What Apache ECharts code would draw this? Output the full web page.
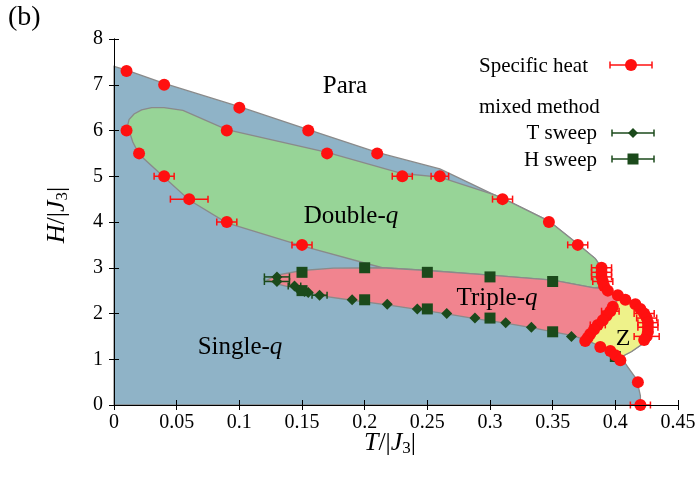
<!DOCTYPE html>
<html><head><meta charset="utf-8">
<script src="https://cdn.jsdelivr.net/npm/echarts@6/dist/echarts.min.js"></script>
<style>html,body{margin:0;padding:0;background:#fff}#c{width:700px;height:478px}</style>
</head><body><div id="c"></div>
<script>
// ---- axes ----
const xMin = 0, xMax = 0.45, xStep = 0.05;
const yMin = 0, yMax = 8, yStep = 1;

// ---- phase boundaries [T, H] ----
const outerBoundary = [[0,0],[0,7.4],[0.01,7.32],[0.04,7.03],[0.1,6.52],[0.155,6.02],[0.21,5.52],[0.26,5.16],[0.283,4.86],[0.303,4.6],[0.31,4.52],[0.347,4.02],[0.37,3.52],[0.384,3.2],[0.389,3.0],[0.39,2.7],[0.395,2.5],[0.403,2.38],[0.416,2.22],[0.423,2.05],[0.427,1.85],[0.428,1.65],[0.426,1.5],[0.421,1.32],[0.413,1.17],[0.406,1.07],[0.407,0.95],[0.41,0.83],[0.416,0.6],[0.418,0.45],[0.42,0.2],[0.42,0]];
const doubleQ = [[0.012,6.0],[0.011,6.12],[0.012,6.24],[0.016,6.36],[0.022,6.45],[0.03,6.5],[0.04,6.5],[0.055,6.44],[0.09,6.02],[0.17,5.52],[0.23,5.06],[0.26,4.98],[0.303,4.6],[0.31,4.52],[0.347,4.02],[0.37,3.52],[0.384,3.2],[0.389,3.0],[0.39,2.7],[0.389,2.58],[0.383,2.56],[0.35,2.73],[0.3,2.84],[0.25,2.94],[0.214,3.0],[0.15,3.48],[0.09,3.98],[0.06,4.48],[0.04,4.98],[0.02,5.48],[0.015,5.75]];
const tripleQ = [[0.122,2.73],[0.13,2.84],[0.15,2.94],[0.175,2.99],[0.214,3.0],[0.25,2.94],[0.3,2.84],[0.35,2.73],[0.383,2.56],[0.39,2.55],[0.396,2.45],[0.403,2.35],[0.398,2.15],[0.393,1.95],[0.386,1.75],[0.38,1.55],[0.377,1.42],[0.365,1.52],[0.333,1.69],[0.3125,1.79],[0.288,1.89],[0.2655,1.99],[0.242,2.09],[0.218,2.19],[0.19,2.29],[0.164,2.39],[0.148,2.52],[0.13,2.65]];
const zPhase = [[0.377,1.42],[0.38,1.55],[0.386,1.75],[0.393,1.95],[0.398,2.15],[0.403,2.35],[0.41,2.3],[0.416,2.22],[0.423,2.05],[0.427,1.85],[0.428,1.65],[0.426,1.5],[0.421,1.32],[0.413,1.17],[0.406,1.07],[0.4,1.1],[0.396,1.18],[0.388,1.28]];

// ---- data [T, H, xerr] ----
const specificHeat = [
 [0.01,7.3,0],[0.04,7.0,0],[0.1,6.5,0],[0.155,6.0,0],[0.21,5.5,0],[0.26,5.0,0.007],[0.31,4.5,0.008],[0.347,4.0,0],[0.37,3.5,0.008],
 [0.01,6.0,0],[0.02,5.5,0],[0.04,5.0,0.008],[0.06,4.5,0.015],[0.09,4.0,0.008],[0.15,3.5,0.008],
 [0.09,6.0,0],[0.17,5.5,0],[0.23,5.0,0.008],
 [0.389,3.0,0.008],[0.389,2.9,0.008],[0.389,2.8,0.008],[0.39,2.7,0.008],[0.391,2.6,0],[0.394,2.5,0],[0.402,2.4,0],[0.408,2.3,0],
 [0.416,2.2,0],[0.42,2.1,0],[0.423,2.0,0.008],[0.425,1.9,0.008],[0.426,1.8,0.008],[0.426,1.7,0.008],[0.426,1.6,0],[0.425,1.5,0.01],[0.423,1.42,0],
 [0.398,2.15,0],[0.396,2.05,0.007],[0.393,1.95,0],[0.39,1.85,0],[0.386,1.75,0.006],[0.383,1.65,0],[0.38,1.55,0],[0.378,1.47,0],[0.376,1.4,0],
 [0.388,1.27,0],[0.396,1.18,0],[0.4,1.09,0],[0.404,0.98,0],
 [0.418,0.5,0],[0.42,0.0,0.008]
];
const tSweep = [[0.13,2.8,0.01],[0.13,2.7,0.01],[0.144,2.6,0.005],[0.148,2.51,0],[0.152,2.48,0],[0.155,2.46,0],[0.164,2.4,0.006],[0.19,2.3,0],[0.218,2.2,0],[0.242,2.1,0],[0.2655,2.0,0],[0.288,1.9,0],[0.3125,1.8,0],[0.333,1.7,0],[0.365,1.5,0]];
const hSweep = [[0.15,2.9,0],[0.15,2.5,0],[0.2,3.0,0],[0.2,2.3,0],[0.25,2.9,0],[0.25,2.1,0],[0.3,2.8,0],[0.3,1.9,0],[0.35,2.7,0],[0.35,1.6,0],[0.4,1.06,0]];

const RED = '#ff1010', DG = '#1b4a1b', EDGE = '#8a8a8a';
const SERIF = 'Liberation Serif';

function poly(pts, fill, z){
  return {type:'custom', coordinateSystem:'cartesian2d', z, silent:true, data:[[0,0]],
    renderItem:(p, api)=>({type:'polygon', shape:{points: pts.map(q=>api.coord(q))},
      style:{fill, stroke:EDGE, lineWidth:1.3}})};
}
function errBars(pts, color, z){
  return {type:'custom', coordinateSystem:'cartesian2d', z, silent:true,
    data: pts.filter(p=>p[2]>0),
    renderItem:(p, api)=>{
      const t=api.value(0), h=api.value(1), e=api.value(2);
      const a=api.coord([t-e,h]), b=api.coord([t+e,h]); const c=3.5;
      const st={stroke:color, lineWidth:1.5};
      return {type:'group', children:[
        {type:'line', shape:{x1:a[0],y1:a[1],x2:b[0],y2:b[1]}, style:st},
        {type:'line', shape:{x1:a[0],y1:a[1]-c,x2:a[0],y2:a[1]+c}, style:st},
        {type:'line', shape:{x1:b[0],y1:b[1]-c,x2:b[0],y2:b[1]+c}, style:st}]};
    }};
}
function fmt(v){ return v===0 ? '0' : String(+v.toFixed(2)); }

const axisCommon = {min:xMin, max:xMax, interval:xStep, type:'value', z:10,
  axisLine:{show:true, lineStyle:{color:'#000', width:1}},
  axisTick:{show:true, inside:true, length:5, lineStyle:{color:'#000'}},
  splitLine:{show:false}};
const yCommon = {min:yMin, max:yMax, interval:yStep, type:'value', z:10,
  axisLine:{show:true, lineStyle:{color:'#000', width:1}},
  axisTick:{show:true, inside:true, length:5, lineStyle:{color:'#000'}},
  splitLine:{show:false}};

const italicQ = {i:{fontStyle:'italic', fontFamily:SERIF, fontSize:25}};
const axisRich = {i:{fontStyle:'italic', fontFamily:SERIF, fontSize:26}, s:{fontFamily:SERIF, fontSize:17, padding:[11,0,0,0]}};

const chart = echarts.init(document.getElementById('c'), null, {renderer:'canvas'});
chart.setOption({
  animation:false,
  backgroundColor:'#fff',
  grid:{left:114, right:22, top:39, bottom:73},
  xAxis:[
    Object.assign({}, axisCommon, {position:'bottom', axisLabel:{formatter:fmt, color:'#000', fontFamily:SERIF, fontSize:20, margin:8}}),
    Object.assign({}, axisCommon, {position:'top', axisLabel:{show:false}})
  ],
  yAxis:[
    Object.assign({}, yCommon, {position:'left', axisLabel:{color:'#000', fontFamily:SERIF, fontSize:20, margin:11}}),
    Object.assign({}, yCommon, {position:'right', axisLabel:{show:false}})
  ],
  series:[
    poly(outerBoundary, '#8fb3c7', 1),
    poly(doubleQ, '#97d497', 2),
    poly(tripleQ, '#f1848f', 3),
    poly(zPhase, '#eef28a', 4),
    errBars(tSweep, DG, 5),
    {type:'scatter', z:6, silent:true, symbol:'diamond', symbolSize:[11,11], itemStyle:{color:DG, opacity:1}, data:tSweep.map(p=>[p[0],p[1]])},
    {type:'scatter', z:6, silent:true, symbol:'rect', symbolSize:11, itemStyle:{color:DG, opacity:1}, data:hSweep.map(p=>[p[0],p[1]])},
    errBars(specificHeat, RED, 7),
    {type:'scatter', z:8, silent:true, symbol:'circle', symbolSize:12, itemStyle:{color:RED, opacity:1}, data:specificHeat.map(p=>[p[0],p[1]])}
  ],
  graphic:[
    {type:'text', left:8, top:4, z:20, style:{text:'(b)', font:'28px "Liberation Serif"', fill:'#000'}},
    {type:'text', x:345, y:86, z:20, style:{text:'Para', font:'25px "Liberation Serif"', fill:'#000', align:'center', verticalAlign:'middle'}},
    {type:'text', x:351, y:216, z:20, style:{text:'Double-{i|q}', font:'25px "Liberation Serif"', fill:'#000', align:'center', verticalAlign:'middle', rich:italicQ}},
    {type:'text', x:497, y:298, z:20, style:{text:'Triple-{i|q}', font:'25px "Liberation Serif"', fill:'#000', align:'center', verticalAlign:'middle', rich:italicQ}},
    {type:'text', x:240, y:347, z:20, style:{text:'Single-{i|q}', font:'25px "Liberation Serif"', fill:'#000', align:'center', verticalAlign:'middle', rich:italicQ}},
    {type:'text', x:623, y:339, z:20, style:{text:'Z', font:'24px "Liberation Serif"', fill:'#000', align:'center', verticalAlign:'middle'}},
    // axis titles
    {type:'text', x:390, y:443, z:20, style:{text:'{i|T}/|{i|J}{s|3}|', font:'26px "Liberation Serif"', fill:'#000', align:'center', verticalAlign:'middle', rich:axisRich}},
    {type:'text', x:57, y:215, rotation:Math.PI/2, z:20, style:{text:'{i|H}/|{i|J}{s|3}|', font:'26px "Liberation Serif"', fill:'#000', align:'center', verticalAlign:'middle', rich:axisRich}},
    // legend
    {type:'text', x:588, y:66, z:20, style:{text:'Specific heat', font:'21px "Liberation Serif"', fill:'#000', align:'right', verticalAlign:'middle'}},
    {type:'line', z:20, shape:{x1:610,y1:65,x2:652,y2:65}, style:{stroke:RED, lineWidth:1.5}},
    {type:'line', z:20, shape:{x1:610,y1:61.5,x2:610,y2:68.5}, style:{stroke:RED, lineWidth:1.5}},
    {type:'line', z:20, shape:{x1:652,y1:61.5,x2:652,y2:68.5}, style:{stroke:RED, lineWidth:1.5}},
    {type:'circle', z:21, shape:{cx:631, cy:65, r:6}, style:{fill:RED}},
    {type:'text', x:479, y:107, z:20, style:{text:'mixed method', font:'21px "Liberation Serif"', fill:'#000', align:'left', verticalAlign:'middle'}},
    {type:'text', x:597, y:133, z:20, style:{text:'T sweep', font:'21px "Liberation Serif"', fill:'#000', align:'right', verticalAlign:'middle'}},
    {type:'line', z:20, shape:{x1:612,y1:133,x2:654,y2:133}, style:{stroke:DG, lineWidth:1.5}},
    {type:'line', z:20, shape:{x1:612,y1:129.5,x2:612,y2:136.5}, style:{stroke:DG, lineWidth:1.5}},
    {type:'line', z:20, shape:{x1:654,y1:129.5,x2:654,y2:136.5}, style:{stroke:DG, lineWidth:1.5}},
    {type:'polygon', z:21, shape:{points:[[633,128],[638,133],[633,138],[628,133]]}, style:{fill:DG}},
    {type:'text', x:597, y:160, z:20, style:{text:'H sweep', font:'21px "Liberation Serif"', fill:'#000', align:'right', verticalAlign:'middle'}},
    {type:'line', z:20, shape:{x1:612,y1:159,x2:654,y2:159}, style:{stroke:DG, lineWidth:1.5}},
    {type:'line', z:20, shape:{x1:612,y1:155.5,x2:612,y2:162.5}, style:{stroke:DG, lineWidth:1.5}},
    {type:'line', z:20, shape:{x1:654,y1:155.5,x2:654,y2:162.5}, style:{stroke:DG, lineWidth:1.5}},
    {type:'rect', z:21, shape:{x:627.5, y:153.5, width:11, height:11}, style:{fill:DG}}
  ]
});
</script>
</body></html>
